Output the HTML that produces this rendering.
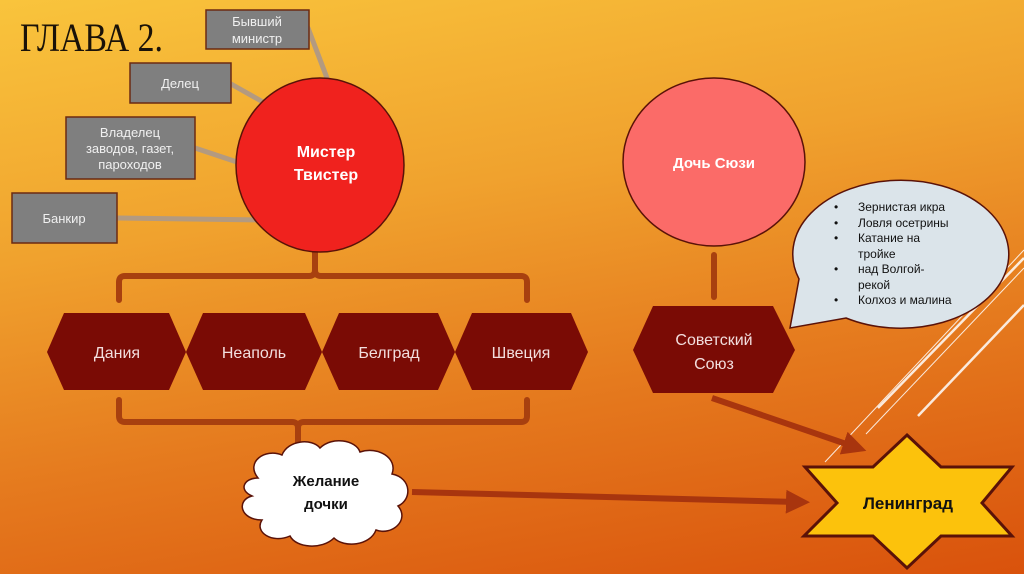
<!DOCTYPE html>
<html><head><meta charset="utf-8"><style>
html,body{margin:0;padding:0}
body{width:1024px;height:574px;overflow:hidden;background:linear-gradient(170deg,#f9c43c 0%,#f0a22e 35%,#e57a1e 65%,#d9520c 100%);position:relative}
svg{position:absolute;left:0;top:0}
text{font-family:"Liberation Sans",sans-serif}
</style></head><body>
<svg width="1024" height="574" viewBox="0 0 1024 574">
<defs>
<marker id="ah" markerWidth="4" markerHeight="4" refX="2" refY="2" orient="auto" markerUnits="strokeWidth"><path d="M0,0 L4,2 L0,4 Z" fill="#a8350e"/></marker>
</defs>
<text x="20" y="51" font-size="40" fill="#1a1208" textLength="143" lengthAdjust="spacingAndGlyphs" style="font-family:'Liberation Serif',serif">ГЛАВА 2.</text>
<!-- decorative lines -->
<g stroke="#fff" fill="none" opacity="0.85">
<line x1="878" y1="408" x2="1024" y2="258" stroke-width="2.5"/>
<line x1="918" y1="416" x2="1024" y2="305" stroke-width="2.5"/>
<line x1="825" y1="462" x2="1024" y2="250" stroke-width="1"/>
<line x1="866" y1="434" x2="1024" y2="268" stroke-width="1"/>
</g>
<!-- grey connectors -->
<g stroke="#b39a80" stroke-width="5" stroke-linecap="round">
<line x1="308" y1="28" x2="327" y2="78"/>
<line x1="231" y1="84" x2="263" y2="102"/>
<line x1="195" y1="148" x2="237" y2="162"/>
<line x1="117" y1="218" x2="265" y2="220"/>
</g>
<!-- boxes -->
<g fill="#7f7f7f" stroke="#6b2a12" stroke-width="1.5">
<rect x="206" y="10" width="103" height="39"/>
<rect x="130" y="63" width="101" height="40"/>
<rect x="66" y="117" width="129" height="62"/>
<rect x="12" y="193" width="105" height="50"/>
</g>
<g fill="#f0f0f0" font-size="13" text-anchor="middle">
<text x="257" y="26">Бывший</text><text x="257" y="43">министр</text>
<text x="180" y="88">Делец</text>
<text x="130" y="137">Владелец</text><text x="130" y="153">заводов, газет,</text><text x="130" y="169">пароходов</text>
<text x="64" y="223">Банкир</text>
</g>
<!-- brackets -->
<g stroke="#a8400f" stroke-width="6" fill="none" stroke-linecap="round" stroke-linejoin="round">
<path d="M119,300 V282 Q119,276 125,276 H309 Q315,276 315,270 V252 M315,270 Q315,276 321,276 H521 Q527,276 527,282 V300"/>
<path d="M119,400 V416 Q119,422 125,422 H292 Q298,422 298,428 V442 M298,428 Q298,422 304,422 H521 Q527,422 527,416 V400"/>
<line x1="714" y1="255" x2="714" y2="297"/>
</g>
<!-- circles -->
<ellipse cx="320" cy="165" rx="84" ry="87" fill="#f0221e" stroke="#5a1208" stroke-width="1.5"/>
<text x="326" y="157" fill="#fff" font-size="16" font-weight="bold" text-anchor="middle">Мистер</text>
<text x="326" y="180" fill="#fff" font-size="16" font-weight="bold" text-anchor="middle">Твистер</text>
<ellipse cx="714" cy="162" rx="91" ry="84" fill="#fb6b68" stroke="#5a1208" stroke-width="1.5"/>
<text x="714" y="168" fill="#fff" font-size="15" font-weight="bold" text-anchor="middle">Дочь Сюзи</text>
<!-- hexagons -->
<g fill="#7a0b05">
<polygon points="47,352 64,313 169,313 186,352 169,390 64,390"/>
<polygon points="186,352 203,313 305,313 322,352 305,390 203,390"/>
<polygon points="322,352 339,313 438,313 455,352 438,390 339,390"/>
<polygon points="455,352 472,313 571,313 588,352 571,390 472,390"/>
<polygon points="633,350 653,306 773,306 795,350 773,393 653,393"/>
</g>
<g fill="#f2dede" font-size="16" text-anchor="middle">
<text x="117" y="358">Дания</text><text x="254" y="358">Неаполь</text><text x="389" y="358">Белград</text><text x="521" y="358">Швеция</text>
<text x="714" y="345">Советский</text><text x="714" y="369">Союз</text>
</g>
<!-- speech bubble -->
<path d="M790,328 L799,279 A108,74 0 1,1 846,318 Z" fill="#dbe4ea" stroke="#5a1208" stroke-width="1.5"/>
<g font-size="12" fill="#111">
<text x="834" y="211">•</text><text x="858" y="211">Зернистая икра</text>
<text x="834" y="227">•</text><text x="858" y="227">Ловля осетрины</text>
<text x="834" y="242">•</text><text x="858" y="242">Катание на</text>
<text x="858" y="258">тройке</text>
<text x="834" y="273">•</text><text x="858" y="273">над Волгой-</text>
<text x="858" y="289">рекой</text>
<text x="834" y="304">•</text><text x="858" y="304">Колхоз и малина</text>
</g>
<!-- arrows -->
<g stroke="#a8350e" stroke-width="6" fill="none" marker-end="url(#ah)">
<line x1="712" y1="398" x2="855" y2="447"/>
<line x1="412" y1="492" x2="798" y2="502"/>
</g>
<!-- cloud -->
<path d="M258,478 C245,462 265,448 282,455 C288,440 312,438 320,448 C332,436 356,440 360,452 C378,446 398,458 392,474 C412,478 412,500 398,506 C410,520 392,536 376,530 C370,546 344,548 334,538 C322,550 296,548 290,536 C272,544 254,532 262,520 C240,520 236,500 252,496 C238,490 244,478 258,478 Z" fill="#fff" stroke="#5a1208" stroke-width="1.5"/>
<text x="326" y="486" font-size="15" font-weight="bold" fill="#111" text-anchor="middle">Желание</text>
<text x="326" y="509" font-size="15" font-weight="bold" fill="#111" text-anchor="middle">дочки</text>
<!-- star -->
<polygon points="907,435 941,467 1012,467 982,503 1012,536 941,536 907,568 873,536 804,536 837,503 805,467 873,467" fill="#fcc20c" stroke="#5a1208" stroke-width="3" stroke-linejoin="miter"/>
<text x="908" y="509" font-size="17" font-weight="bold" fill="#111" text-anchor="middle">Ленинград</text>
</svg>
</body></html>
